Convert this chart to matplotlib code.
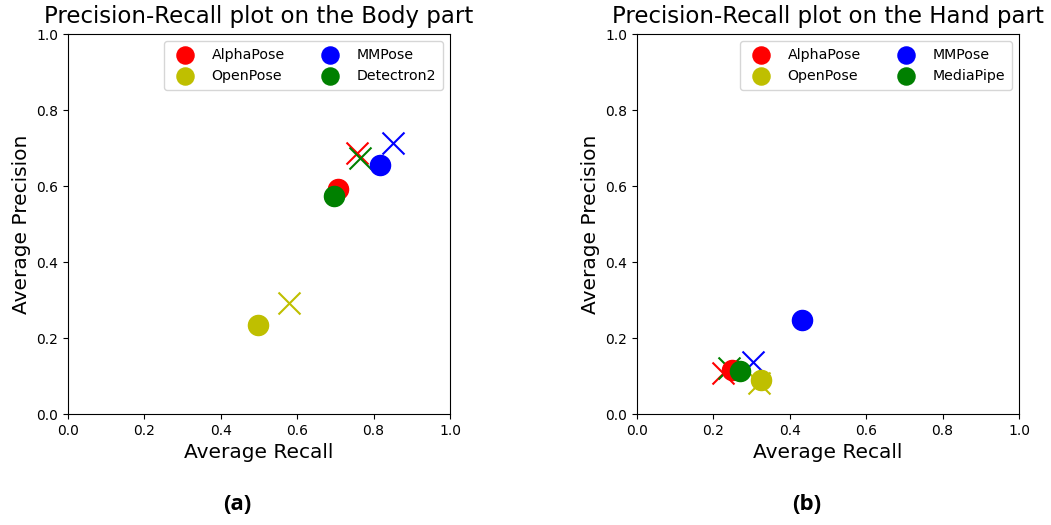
import matplotlib
matplotlib.use("Agg")
import matplotlib.pyplot as plt

methods_body = ["AlphaPose", "OpenPose", "MMPose", "Detectron2"]
methods_hand = ["AlphaPose", "OpenPose", "MMPose", "MediaPipe"]
colors = ["r", "y", "b", "g"]

# Body part: circles and crosses
body_recall_o = [0.707, 0.497, 0.817, 0.696]
body_prec_o = [0.593, 0.234, 0.655, 0.574]
body_recall_x = [0.757, 0.579, 0.851, 0.764]
body_prec_x = [0.687, 0.292, 0.713, 0.674]

# Hand part
hand_recall_o = [0.249, 0.325, 0.432, 0.270]
hand_prec_o = [0.116, 0.089, 0.248, 0.113]
hand_recall_x = [0.225, 0.319, 0.304, 0.240]
hand_prec_x = [0.108, 0.082, 0.137, 0.120]

ticks = [0.0, 0.2, 0.4, 0.6, 0.8, 1.0]

fig = plt.figure(figsize=(10.51, 5.25), dpi=100)
ax1 = fig.add_axes([68/1051, 1-414/525, 382/1051, 380/525])
ax2 = fig.add_axes([637/1051, 1-414/525, 382/1051, 380/525])

def draw(ax, names, ro, po, rx, px, title):
    for n, c, a, b in zip(names, colors, ro, po):
        ax.scatter([a], [b], s=210, c=c, marker="o", label=n, zorder=3)
    for c, a, b in zip(colors, rx, px):
        ax.scatter([a], [b], s=250, c=c, marker="x", linewidths=1.5, zorder=2)
    ax.set_xlim(0, 1)
    ax.set_ylim(0, 1)
    ax.set_xticks(ticks)
    ax.set_yticks(ticks)
    ax.tick_params(labelsize=10)
    ax.set_xlabel("Average Recall", fontsize=14.5)
    ax.set_ylabel("Average Precision", fontsize=14.5)
    ax.set_title(title, fontsize=16.5, pad=8)
    ax.legend(loc="upper right", ncol=2, fontsize=10.2, columnspacing=2.2,
              handletextpad=0.85, labelspacing=0.45, borderpad=0.5,
              markerscale=0.85)

draw(ax1, methods_body, body_recall_o, body_prec_o, body_recall_x, body_prec_x,
     "Precision-Recall plot on the Body part")
draw(ax2, methods_hand, hand_recall_o, hand_prec_o, hand_recall_x, hand_prec_x,
     "Precision-Recall plot on the Hand part")

fig.text(237/1051, 1-505/525, "(a)", fontsize=16, fontweight="bold",
         family="Open Sans", ha="center", va="center")
fig.text(807/1051, 1-505/525, "(b)", fontsize=16, fontweight="bold",
         family="Open Sans", ha="center", va="center")

fig.savefig("out.png", dpi=100)
